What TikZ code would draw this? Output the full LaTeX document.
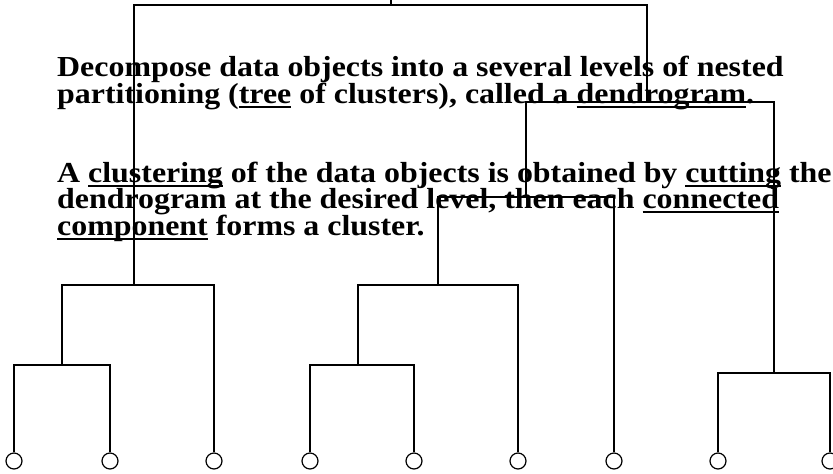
\documentclass[tikz,border=0pt]{standalone}
\usepackage{fontspec}
\setmainfont{Liberation Serif}[FakeStretch=1.1]
\usetikzlibrary{shapes}

\newcommand{\term}[1]{\setbox0\hbox{#1}\rlap{\rule[-4.5pt]{\wd0}{2pt}}\box0\relax}
\newcommand{\slidetext}{\fontsize{29}{26.3}\selectfont\bfseries\lineskiplimit=-20pt\relax}

\begin{document}
\begin{tikzpicture}[x=1pt,y=1pt]
          \tikzset{every node/.append style={inner sep=0pt},
                   txt/.style={anchor=base west,align=left,font=\slidetext},
                   leaf/.style={draw=black,circle,minimum size=16pt,line width=1.2pt}}
          \path[use as bounding box,clip] (0,0) rectangle (833,-474);
          \node[txt] (def) at (57,-103) {Decompose data objects into a several levels of nested\\
            partitioning (\term{tree} of clusters), called a \term{dendrogram}.};
          \node[txt] (cut) at (57,-235) {A \term{clustering} of the data objects is obtained by \term{cutting} the\\
            dendrogram at the desired level, then each \term{connected}\\
            \term{component} forms a cluster.};
          \node[leaf] (o1) at (14,-461) {};
          \node[leaf] (o2) at (110,-461) {};
          \node[leaf] (o3) at (214,-461) {};
          \node[leaf] (o4) at (310,-461) {};
          \node[leaf] (o5) at (414,-461) {};
          \node[leaf] (o6) at (518,-461) {};
          \node[leaf] (o7) at (614,-461) {};
          \node[leaf] (o8) at (718,-461) {};
          \node[leaf] (o9) at (830,-461) {};
          \coordinate (m12) at (62,-365);
          \coordinate (m123) at (134,-285);
          \coordinate (m45) at (358,-365);
          \coordinate (m456) at (438,-285);
          \coordinate (m4567) at (526,-197);
          \coordinate (m89) at (774,-373);
          \coordinate (m4to9) at (647,-102);
          \coordinate (root) at (391,-5);
          \coordinate (top) at (391,2);
          \begin{scope}[black,line width=1.2pt]
          \draw (o1) |- (m12) -| (o2);
          \draw (m12) |- (m123) -| (o3);
          \draw (o4) |- (m45) -| (o5);
          \draw (m45) |- (m456) -| (o6);
          \draw (m456) |- (m4567) -| (o7);
          \draw (o8) |- (m89) -| (o9);
          \draw (m4567) |- (m4to9) -| (m89);
          \draw (m123) |- (root) -| (m4to9);
          \draw (root) -- (top);
          \end{scope}
        \end{tikzpicture}
\end{document}
